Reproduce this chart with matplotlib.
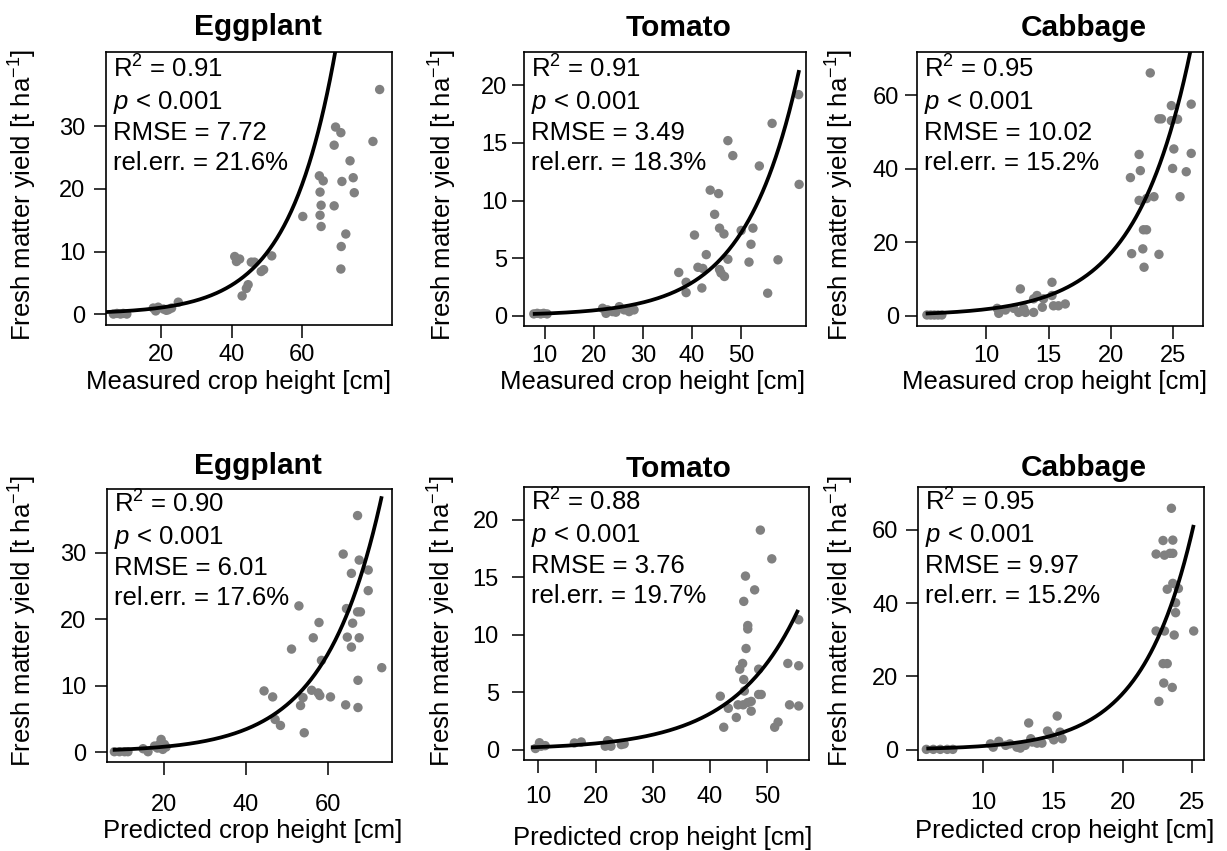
import numpy as np
import matplotlib.pyplot as plt

plt.rcParams['font.family'] = ['Liberation Sans', 'DejaVu Sans']
plt.rcParams['mathtext.fontset'] = 'custom'
plt.rcParams['mathtext.rm'] = 'Liberation Sans'
plt.rcParams['mathtext.it'] = 'Liberation Sans:italic'
plt.rcParams['mathtext.bf'] = 'Liberation Sans:bold'

W, H = 1227, 851

# ---- data ----
# top row: measured crop height vs fresh matter yield
egg_meas_x = [6.5, 7.5, 8.5, 9.3, 10.3, 17.8, 19.2, 20.7, 22.1, 23.0, 24.9, 18.5, 21.5,
              40.9, 41.4, 42.3, 45.6, 46.5, 48.4, 49.1, 51.4, 44.7, 44.2, 43.0,
              60.2, 64.9, 66.0, 65.1, 65.4, 65.1, 65.4, 69.5, 71.0, 69.1, 69.1, 71.3,
              73.6, 74.5, 74.8, 72.4, 71.1, 71.0, 80.1, 82.0]
egg_meas_y = [0.0, 0.1, 0.0, 0.1, 0.0, 0.96, 1.1, 0.8, 0.7, 0.96, 1.9, 0.5, 0.6,
              9.2, 8.4, 8.8, 8.3, 8.3, 6.8, 7.1, 9.3, 4.7, 4.1, 2.9,
              15.6, 22.1, 21.3, 19.5, 17.4, 15.8, 14.0, 29.9, 29.0, 27.0, 17.3, 21.2,
              24.5, 21.8, 19.4, 12.8, 10.8, 7.2, 27.6, 35.9]

tom_meas_x = [7.8, 8.5, 9.2, 9.8, 10.5, 21.8, 22.8, 23.8, 25.2, 26.2, 27.2, 28.2, 22.5, 24.5,
              37.3, 38.8, 38.8, 40.5, 41.2, 42.2, 42.0, 42.9, 43.7, 45.4,
              44.6, 45.6, 46.5, 45.6, 45.9, 46.6, 47.3, 47.3, 48.3, 50.0,
              52.4, 52.0, 51.6, 53.7, 55.4, 56.3, 57.5, 61.7, 61.8]
tom_meas_y = [0.15, 0.2, 0.15, 0.2, 0.15, 0.64, 0.5, 0.35, 0.78, 0.5, 0.35, 0.5, 0.2, 0.3,
              3.75, 2.9, 2.0, 7.0, 4.2, 4.1, 2.4, 5.3, 10.9, 10.6,
              8.8, 7.6, 7.1, 4.0, 3.7, 3.4, 4.9, 15.2, 13.9, 7.4,
              7.6, 6.2, 4.65, 13.0, 1.95, 16.7, 4.85, 19.2, 11.4]

cab_meas_x = [5.2, 5.5, 5.8, 6.1, 6.4,
              10.86, 10.99, 11.53, 12.2, 12.6, 13.0, 13.14, 13.8, 13.8, 14.07, 14.5,
              14.6, 15.28, 15.28, 15.4, 15.8, 16.35, 12.73,
              23.2, 21.6, 22.3, 22.4, 22.3, 22.9, 23.5, 22.65, 22.9, 21.7, 22.6, 22.7,
              23.9, 24.1, 23.9, 24.9, 24.9, 25.4, 25.1, 25.0, 26.5, 26.5, 26.1, 25.6]
cab_meas_y = [0.2, 0.2, 0.2, 0.2, 0.2,
              2.0, 0.64, 1.55, 2.0, 0.9, 2.0, 0.9, 0.9, 4.6, 5.5, 2.3,
              4.6, 9.1, 5.5, 2.7, 2.7, 3.2, 7.3,
              66.1, 37.6, 43.9, 39.5, 31.4, 31.9, 32.4, 23.4, 23.4, 16.9, 18.2, 13.2,
              16.7, 53.6, 53.6, 57.2, 53.1, 53.5, 45.4, 40.1, 57.6, 44.2, 39.2, 32.4]

# bottom row: predicted crop height vs fresh matter yield
egg_pred_x = [8.0, 9.25, 10.5, 11.3, 15.0, 16.2, 17.8, 19.0, 19.4, 20.2, 19.8, 20.6, 18.5,
              44.5, 46.6, 47.2, 48.5, 51.2, 53.0, 53.4, 54.3, 54.0, 56.5, 57.9, 56.1,
              57.7, 58.1, 58.5, 60.7, 63.8, 64.4, 64.6, 64.8, 65.8, 66.1, 65.8, 67.3,
              67.7, 67.7, 67.3, 68.0, 67.4, 67.4, 69.9, 69.9, 73.2]
egg_pred_y = [0.05, 0.05, 0.05, 0.05, 0.5, 0.05, 0.9, 1.15, 1.9, 1.15, 0.4, 0.75, 0.6,
              9.2, 8.3, 4.9, 4.0, 15.5, 22.0, 7.0, 2.9, 8.2, 17.2, 19.5, 9.3,
              8.9, 8.5, 13.8, 8.3, 29.8, 7.1, 21.6, 17.3, 15.8, 19.4, 26.9, 35.6,
              28.9, 17.2, 21.1, 21.1, 10.8, 6.7, 27.4, 24.3, 12.7]

tom_pred_x = [9.5, 10.2, 10.5, 11.2, 16.3, 17.5, 22.1, 21.7, 22.7, 22.4, 24.5, 25.0,
              41.8, 42.4, 43.2, 44.6, 44.9, 45.2, 45.7, 45.9, 46.0, 45.8, 46.3, 46.6,
              46.6, 45.9, 46.2, 47.8, 47.2, 47.2, 46.6, 48.5, 48.95, 48.5, 48.8, 50.8,
              51.3, 51.9, 53.6, 53.9, 55.5, 55.5, 55.5]
tom_pred_y = [0.1, 0.6, 0.3, 0.35, 0.58, 0.67, 0.78, 0.3, 0.3, 0.67, 0.44, 0.5,
              4.65, 1.95, 3.6, 2.8, 3.9, 7.0, 7.5, 6.1, 5.1, 3.9, 8.8, 10.8,
              10.5, 12.9, 15.1, 13.9, 3.35, 4.2, 4.1, 4.8, 4.8, 7.0, 19.1, 16.6,
              1.95, 2.4, 7.5, 3.9, 11.3, 7.3, 3.8]

cab_pred_x = [5.9, 6.4, 6.9, 7.4, 7.8,
              10.5, 11.1, 10.7, 11.9, 12.4, 12.65, 13.0, 13.25, 13.4, 13.5, 13.85, 14.2,
              14.6, 14.8, 15.05, 15.3, 15.5, 15.65, 11.6,
              22.4, 22.9, 23.6, 23.0, 23.4, 23.6, 23.5, 23.2, 23.6, 24.0, 23.8, 23.8,
              22.4, 23.0, 23.7, 25.1, 22.9, 23.2, 22.95, 23.56, 22.6]
cab_pred_y = [0.1, 0.1, 0.1, 0.1, 0.1,
              1.6, 2.3, 0.7, 1.6, 0.7, 0.45, 1.2, 7.3, 3.0, 2.1, 1.8, 1.8,
              5.1, 3.9, 2.7, 9.2, 4.8, 3.0, 1.2,
              53.4, 57.1, 57.2, 53.1, 53.6, 53.6, 65.9, 43.8, 45.4, 44.0, 40.1, 37.4,
              32.4, 32.4, 31.3, 32.4, 23.5, 23.5, 18.2, 17.0, 13.2]

# exponential fits y = a * exp(b * x), with the x range of each drawn curve
fit_a = [0.23, 0.0724, 0.188, 0.184, 0.0928, 0.0665]
fit_b = [0.075, 0.092, 0.225, 0.073, 0.088, 0.272]
fit_x0 = [4.4, 7.6, 5.1, 7.6, 8.7, 5.9]
fit_x1 = [72.0, 61.8, 27.0, 73.2, 55.4, 25.1]

r2 = ['0.91', '0.91', '0.95', '0.90', '0.88', '0.95']
rmse = ['7.72', '3.49', '10.02', '6.01', '3.76', '9.97']
rel_err = ['21.6', '18.3', '15.2', '17.6', '19.7', '15.2']

crops = ['Eggplant', 'Tomato', 'Cabbage'] * 2
xlabels = ['Measured crop height [cm]'] * 3 + ['Predicted crop height [cm]'] * 3
ylabel = 'Fresh matter yield [t ha$^{-1}$]'

xs = [egg_meas_x, tom_meas_x, cab_meas_x, egg_pred_x, tom_pred_x, cab_pred_x]
ys = [egg_meas_y, tom_meas_y, cab_meas_y, egg_pred_y, tom_pred_y, cab_pred_y]

xlims = [(4.4, 85.5), (5.8, 63.2), (4.4, 27.45), (6.2, 75.7), (7.5, 57.3), (5.3, 25.84)]
ylims = [(-1.75, 41.9), (-0.9, 22.9), (-2.8, 71.8), (-1.5, 39.6), (-0.9, 22.85), (-2.8, 71.7)]
xticks = [[20, 40, 60], [10, 20, 30, 40, 50], [10, 15, 20, 25],
          [20, 40, 60], [10, 20, 30, 40, 50], [10, 15, 20, 25]]
yticks = [[0, 10, 20, 30], [0, 5, 10, 15, 20], [0, 20, 40, 60],
          [0, 10, 20, 30], [0, 5, 10, 15, 20], [0, 20, 40, 60]]

# ---- layout (pixel positions in the 1227x851 canvas) ----
boxes = [(106, 52, 392, 325), (524, 52, 806, 326), (917, 52, 1203, 326),
         (107, 489, 392, 762), (524, 487, 809, 760), (918, 487, 1204, 760)]
title_pos = [(258, 35), (679, 36.5), (1084, 36.5), (258, 474), (679, 477.5), (1084, 476.5)]
xlabel_pos = [(239, 389), (653, 389), (1055, 389), (253, 838), (663, 845), (1065, 838)]
ylabel_pos = [(23, 195), (443, 195), (840, 195), (23, 621), (442, 621), (840, 621)]
xpad = [5, 5, 5, 14, 10, 14]
ypad = [6, 3, 4, 6, 9, 5]
stats_top = [26, 26, 26, 24, 24, 24]

fig = plt.figure(figsize=(W / 100, H / 100), dpi=100)


def fx(x, y):
    return x / W, 1 - y / H


for i in range(6):
    l, t, r, b = boxes[i]
    ax = fig.add_axes([l / W, 1 - b / H, (r - l) / W, (b - t) / H])
    ax.scatter(xs[i], ys[i], s=46, color='#808080', edgecolors='none', zorder=2)
    cx = np.linspace(fit_x0[i], fit_x1[i], 400)
    ax.plot(cx, fit_a[i] * np.exp(fit_b[i] * cx), color='black', lw=2.7,
            solid_capstyle='butt', zorder=3)
    ax.set_xlim(xlims[i])
    ax.set_ylim(ylims[i])
    ax.set_xticks(xticks[i])
    ax.set_yticks(yticks[i])
    ax.tick_params(axis='both', direction='out', length=9, width=1.1,
                   labelsize=17, colors='black')
    ax.tick_params(axis='x', pad=xpad[i])
    ax.tick_params(axis='y', pad=ypad[i])
    for s in ax.spines.values():
        s.set_linewidth(1.2)

    h = b - t
    w = r - l
    lines = ['R$^2$ = ' + r2[i], '$p$ < 0.001', 'RMSE = ' + rmse[i],
             'rel.err. = ' + rel_err[i] + '%']
    for k, txt in enumerate(lines):
        ax.text(7 / w, 1 - (stats_top[i] + 30.8 * k) / h, txt, transform=ax.transAxes,
                ha='left', va='baseline', fontsize=18.5)

    fig.text(*fx(*title_pos[i]), crops[i], ha='center', va='baseline',
             fontsize=21.5, fontweight='bold')
    fig.text(*fx(*xlabel_pos[i]), xlabels[i], ha='center', va='baseline', fontsize=18.5)
    fig.text(*fx(*ylabel_pos[i]), ylabel, ha='center', va='center', rotation=90,
             fontsize=18.5)

fig.savefig('out.png', dpi=100)
